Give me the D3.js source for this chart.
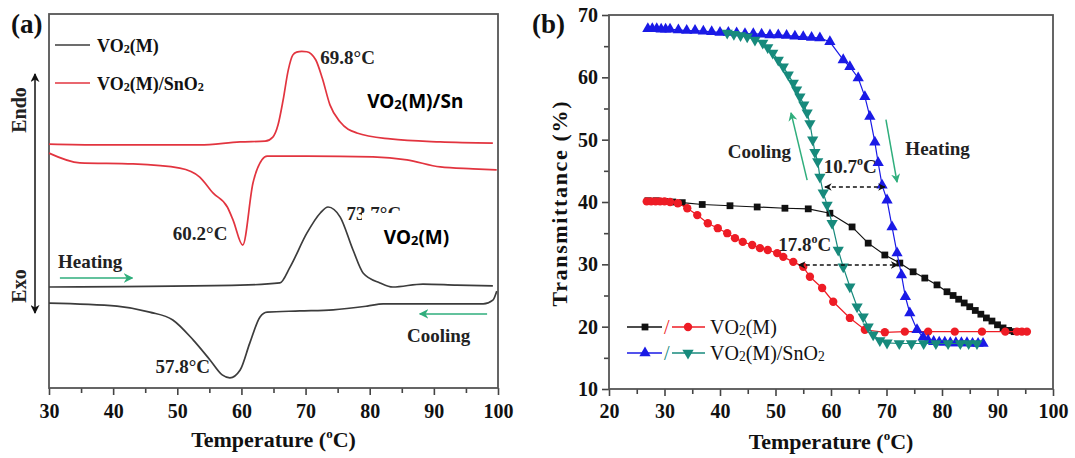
<!DOCTYPE html>
<html>
<head>
<meta charset="utf-8">
<script src="https://cdn.jsdelivr.net/npm/d3@7"></script>
<style>
body{margin:0;background:#fff;}
svg{display:block;}
</style>
</head>
<body>
<svg id="pic" width="1075" height="458"></svg>
<script>
// ---------- panel (a): DSC curves, temperature (°C) vs heat flow (arb. units)
var dscTicks = [30,40,50,60,70,80,90,100];
var dscMinor = [35,45,55,65,75,85,95];

var snHeatT = [30,38,53.5,59.8,63.7,64.9,65.7,66.5,67.3,68.0,68.6,69.4,70.2,70.9,71.6,72.6,73.8,75.4,78.0,83.2,91.0,99.2];
var snHeatV = [65.2,65.0,65.0,65.8,66.0,67.1,70.3,77.0,85.0,89.0,89.8,90.0,89.9,89.3,87.7,82.9,75.7,71.1,68.2,66.6,65.8,65.5];

var snCoolT = [30,34.8,43.1,50.4,53.5,55.6,57.8,58.7,60.2,61.8,63.2,64.0,70.2,80.5,85.8,91.0,96.1,99.8];
var snCoolV = [62.8,60.2,59.9,58.8,56.4,52.1,48.4,44.9,38.2,54.8,61.0,62.0,62.0,61.8,61.0,59.1,58.6,58.3];

var voHeatT = [30,59.8,66.0,67.6,70.2,72.3,73.5,75.4,77.4,79.0,81.6,83.6,88.3,93.6,99.2];
var voHeatV = [27.0,27.5,28.1,32.4,41.4,46.8,48.4,45.7,36.9,30.7,28.1,27.0,27.8,27.5,27.3];

var voCoolT = [30,40.6,45.7,49.3,52.5,55.1,57.0,58.2,59.8,61.3,62.9,64.0,69.1,74.3,79.6,82.1,97.7,99.2,99.8];
var voCoolV = [22.7,21.9,20.3,18.2,12.8,7.5,3.5,2.7,4.8,12.0,19.0,20.3,20.6,20.9,21.9,22.5,22.5,23.5,25.9];

// ---------- panel (b): transmittance (%) vs temperature (°C)
var trXTicks = [20,30,40,50,60,70,80,90,100];
var trXMinor = [25,35,45,55,65,75,85,95];
var trYTicks = [10,20,30,40,50,60,70];
var trYMinor = [15,25,35,45,55,65];

var voHT = [27,28.5,30,31.5,33.2,36.8,41.8,46.7,51.7,55.9,59.8,63.8,66.7,69.7,72.4,74.8,76.9,79.1,80.9,82,83,84,85,86,87,88,89,90,91,92,93,94];
var voHV = [40.2,40.2,40.1,40.0,39.9,39.6,39.4,39.2,39.0,38.9,38.2,36.0,33.4,31.5,30.2,28.8,27.8,26.7,25.6,25.0,24.4,23.8,23.2,22.6,22.0,21.4,20.9,20.3,19.8,19.4,19.2,19.2];

var voCT = [26.8,27.6,28.4,29.2,30,31,32.4,34.1,35.9,37.8,39.6,41.3,42.7,44.1,45.8,47.2,48.6,50.3,51.4,53.2,55.0,56.2,58.4,60.4,63.4,66.1,69.7,73.3,77.5,82.3,87.2,91.4,93.5,94.4,95.3];
var voCV = [40.1,40.1,40.1,40.1,40.1,40.0,39.8,39.0,37.9,36.6,35.8,35.0,34.2,33.6,33.1,32.6,32.3,31.8,31.2,30.4,29.6,28.0,26.2,24.0,21.4,19.5,19.1,19.2,19.2,19.2,19.2,19.2,19.2,19.2,19.2];

var snHT = [27,27.8,28.6,29.4,30.2,31,32.5,34,35.5,37,38.5,40,41.5,43,44.5,46,47.5,49,50.5,52,53.5,55,56.5,58,59.8,62.2,63.4,64.9,66.1,67.0,67.9,68.5,69.2,70.1,71.0,71.9,72.7,73.4,74.2,75.5,76.6,77.5,78.5,79.5,80.5,81.5,82.5,83.5,84.5,85.5,86.5,87.4];
var snHV = [67.8,67.8,67.8,67.7,67.7,67.7,67.6,67.5,67.5,67.4,67.3,67.2,67.2,67.1,67.0,67.0,66.9,66.8,66.8,66.7,66.6,66.5,66.4,66.3,65.7,62.8,61.7,59.9,56.9,53.7,49.6,46.3,42.7,40.3,36.0,31.8,28.3,24.8,22.2,19.5,18.3,17.8,17.6,17.5,17.5,17.4,17.4,17.4,17.4,17.3,17.3,17.3];

var snCT = [41.3,42.5,43.7,44.9,46.3,47.7,48.6,49.5,50.5,51.4,52.3,53.2,53.8,54.4,55.1,55.7,56.2,56.7,57.1,57.6,58.0,58.6,59.3,60.2,61.3,62.2,63.4,64.7,65.8,66.7,67.6,68.8,70.1,72.3,74.5,76.7,78.9,81.1,83.3,84.8,86.3];
var snCV = [67.1,66.9,66.7,66.5,66.0,65.5,64.8,63.9,62.8,61.7,60.4,59.1,58.0,56.9,55.6,54.3,52.6,50.0,48.0,46.5,44.0,41.5,39.5,36.6,32.3,29.6,26.4,23.2,21.6,20.0,18.7,17.8,17.4,17.3,17.3,17.3,17.3,17.3,17.3,17.3,17.3];

var serif = "'Liberation Serif','Times New Roman',serif";
var sans = "'Noto Sans','Open Sans',Arial,sans-serif";
var svg = d3.select("#pic");

function zip(xs, ys){ return xs.map(function(x,i){ return [x, ys[i]]; }); }

// text with chemical subscripts: parts = [[str, kind], ...]
function chemText(g, x, y, parts, size, weight, fam, color){
    var t = g.append("text").attr("x", x).attr("y", y)
        .attr("font-family", fam).attr("font-size", size)
        .attr("font-weight", weight).attr("fill", color || "#111");
    parts.forEach(function(p){
        var s = t.append("tspan").text(p[0]);
        if(p[1] == "sub") s.attr("font-size", size*0.68).attr("dy", 1);
        else if(p[1] == "back") s.attr("dy", -1);
    });
    return t;
}

var defs = svg.append("defs");
function head(id, color, size){
    defs.append("marker").attr("id", id).attr("viewBox", "0 0 10 10")
        .attr("refX", 9).attr("refY", 5).attr("markerWidth", size).attr("markerHeight", size)
        .attr("orient", "auto-start-reverse")
        .append("path").attr("d", "M0,0 L10,5 L0,10 L3,5 z").attr("fill", color);
}
head("ghead", "#2fae7c", 6);
head("khead", "#111", 5);
head("vhead", "#111", 6);

function styleAxis(g, size){
    g.select(".domain").remove();
    g.selectAll(".tick line").attr("stroke", "#444").attr("stroke-width", 1.6);
    g.selectAll(".tick text").attr("font-family", serif).attr("font-size", size)
        .attr("font-weight", "bold").attr("fill", "#111");
}

// ================= panel (a) =================
var xA = d3.scaleLinear().domain([30,100]).range([49,498]);
var yA = d3.scaleLinear().domain([0,100]).range([388,14]);
var gA = svg.append("g");

var axA = gA.append("g").attr("transform", "translate(0,388)")
    .call(d3.axisBottom(xA).tickValues(dscTicks).tickSize(7).tickPadding(4).tickFormat(d3.format("d")));
styleAxis(axA, 20);
axA.selectAll(".tick text").attr("y", 16);
var axAm = gA.append("g").attr("transform", "translate(0,388)")
    .call(d3.axisBottom(xA).tickValues(dscMinor).tickSize(5).tickFormat(""));
styleAxis(axAm, 20);

gA.append("rect").attr("x", xA(30)).attr("y", yA(100))
    .attr("width", xA(100)-xA(30)).attr("height", yA(0)-yA(100))
    .attr("fill", "none").attr("stroke", "#555").attr("stroke-width", 1.8);

var lineA = d3.line().x(function(d){return xA(d[0]);}).y(function(d){return yA(d[1]);})
    .curve(d3.curveMonotoneX);
var redA = "#e2343f", grayA = "#3c3c3c";
[[snHeatT,snHeatV,redA],[snCoolT,snCoolV,redA],[voHeatT,voHeatV,grayA],[voCoolT,voCoolV,grayA]]
  .forEach(function(s){
    gA.append("path").datum(zip(s[0], s[1])).attr("d", lineA)
      .attr("fill", "none").attr("stroke", s[2]).attr("stroke-width", 1.7);
  });

// legend (a)
gA.append("line").attr("x1", 55).attr("x2", 90).attr("y1", 45).attr("y2", 45).attr("stroke", grayA).attr("stroke-width", 1.7);
chemText(gA, 97, 52, [["VO"],["2","sub"],["(M)","back"]], 18, "bold", serif);
gA.append("line").attr("x1", 55).attr("x2", 90).attr("y1", 83).attr("y2", 83).attr("stroke", redA).attr("stroke-width", 1.7);
chemText(gA, 97, 90, [["VO"],["2","sub"],["(M)/SnO","back"],["2","sub"]], 18, "bold", serif);

// annotations (a)
function aText(x, y, str, size){
    return gA.append("text").attr("x", xA(x)).attr("y", yA(y)).text(str)
      .attr("font-family", serif).attr("font-size", size || 19).attr("font-weight", "bold").attr("fill", "#222");
}
aText(72.3, 86.5, "69.8°C");
chemText(gA, xA(79.6), yA(74.9), [["VO"],["2","sub"],["(M)/Sn","back"]], 19, "bold", sans, "#000");
aText(49.3, 39.6, "60.2°C");
aText(76.4, 45.0, "73.7°C");
gA.append("rect").attr("x", xA(78.8)).attr("y", yA(46.8)).attr("width", 95).attr("height", 18).attr("fill", "#fff");
chemText(gA, xA(82.2), yA(38.4), [["VO"],["2","sub"],["(M)","back"]], 19, "bold", sans, "#000");
aText(31.4, 32.1, "Heating");
gA.append("line").attr("x1", xA(31.7)).attr("x2", xA(43.0)).attr("y1", yA(29.4)).attr("y2", yA(29.4))
    .attr("stroke", "#2fae7c").attr("stroke-width", 1.6).attr("marker-end", "url(#ghead)");
aText(85.8, 12.3, "Cooling");
gA.append("line").attr("x1", xA(98.3)).attr("x2", xA(87.8)).attr("y1", yA(19.8)).attr("y2", yA(19.8))
    .attr("stroke", "#2fae7c").attr("stroke-width", 1.6).attr("marker-end", "url(#ghead)");
aText(46.6, 4.0, "57.8°C");

// endo / exo
gA.append("line").attr("x1", 35).attr("x2", 35).attr("y1", 313).attr("y2", 74)
    .attr("stroke", "#111").attr("stroke-width", 1.5)
    .attr("marker-start", "url(#vhead)").attr("marker-end", "url(#vhead)");
gA.append("text").attr("transform", "translate(26,110) rotate(-90)").attr("text-anchor", "middle")
    .text("Endo").attr("font-family", serif).attr("font-size", 20).attr("font-weight", "bold").attr("fill", "#222");
gA.append("text").attr("transform", "translate(26,286) rotate(-90)").attr("text-anchor", "middle")
    .text("Exo").attr("font-family", serif).attr("font-size", 20).attr("font-weight", "bold").attr("fill", "#222");

gA.append("text").attr("x", 11).attr("y", 33).text("(a)")
    .attr("font-family", serif).attr("font-size", 27).attr("font-weight", "bold").attr("fill", "#111");
var tA = gA.append("text").attr("x", (xA(30)+xA(100))/2).attr("y", 447).attr("text-anchor", "middle")
    .attr("font-family", serif).attr("font-size", 22).attr("font-weight", "bold").attr("fill", "#111");
tA.append("tspan").text("Temperature (");
tA.append("tspan").text("o").attr("font-size", 13).attr("dy", -9);
tA.append("tspan").text("C)").attr("dy", 9);

// ================= panel (b) =================
var xB = d3.scaleLinear().domain([20,100]).range([609,1053]);
var yB = d3.scaleLinear().domain([10,70]).range([389,15]);
var gB = svg.append("g");

var axBx = gB.append("g").attr("transform", "translate(0,389)")
    .call(d3.axisBottom(xB).tickValues(trXTicks).tickSize(7).tickFormat(d3.format("d")));
styleAxis(axBx, 20);
axBx.selectAll(".tick text").attr("y", 15);
var axBxm = gB.append("g").attr("transform", "translate(0,389)")
    .call(d3.axisBottom(xB).tickValues(trXMinor).tickSize(5).tickFormat(""));
styleAxis(axBxm, 20);
var axBy = gB.append("g").attr("transform", "translate(609,0)")
    .call(d3.axisLeft(yB).tickValues(trYTicks).tickSize(7).tickPadding(4).tickFormat(d3.format("d")));
styleAxis(axBy, 20);
var axBym = gB.append("g").attr("transform", "translate(609,0)")
    .call(d3.axisLeft(yB).tickValues(trYMinor).tickSize(5).tickFormat(""));
styleAxis(axBym, 20);

gB.append("rect").attr("x", xB(20)).attr("y", yB(70))
    .attr("width", xB(100)-xB(20)).attr("height", yB(10)-yB(70))
    .attr("fill", "none").attr("stroke", "#555").attr("stroke-width", 1.8);

var lineB = d3.line().x(function(d){return xB(d[0]);}).y(function(d){return yB(d[1]);});
var series = [
    {t: voHT, v: voHV, color: "#111111", sym: d3.symbolSquare, size: 46, rot: 0},
    {t: voCT, v: voCV, color: "#ee1c25", sym: d3.symbolCircle, size: 55, rot: 0},
    {t: snHT, v: snHV, color: "#1a1ae6", sym: d3.symbolTriangle, size: 55, rot: 0},
    {t: snCT, v: snCV, color: "#178a7c", sym: d3.symbolTriangle, size: 55, rot: 180}
];
series.forEach(function(s){
    var pts = zip(s.t, s.v);
    gB.append("path").datum(pts).attr("d", lineB)
      .attr("fill", "none").attr("stroke", s.color).attr("stroke-width", 1.2);
    gB.selectAll(null).data(pts).enter().append("path")
      .attr("d", d3.symbol().type(s.sym).size(s.size))
      .attr("transform", function(d){ return "translate(" + xB(d[0]) + "," + yB(d[1]) + ") rotate(" + s.rot + ")"; })
      .attr("fill", s.color);
});

// legend (b)
function legendItem(y, a, b, label){
    [[a, 627, 662, 645], [b, 672, 705, 688]].forEach(function(p){
        gB.append("line").attr("x1", p[1]).attr("x2", p[2]).attr("y1", y).attr("y2", y)
          .attr("stroke", p[0].color).attr("stroke-width", 1.6);
        gB.append("path").attr("d", d3.symbol().type(p[0].sym).size(p[0].size))
          .attr("transform", "translate(" + p[3] + "," + y + ") rotate(" + p[0].rot + ")")
          .attr("fill", p[0].color);
    });
    gB.append("text").attr("x", 664).attr("y", y+7).text("/")
      .attr("font-family", serif).attr("font-size", 20).attr("fill", b.color);
    chemText(gB, 710, y+7, label, 20, "normal", serif, "#111");
}
legendItem(327, series[0], series[1], [["VO"],["2","sub"],["(M)","back"]]);
legendItem(353, series[2], series[3], [["VO"],["2","sub"],["(M)/SnO","back"],["2","sub"]]);

// annotations (b)
function bText(x, y, str){
    return gB.append("text").attr("x", xB(x)).attr("y", yB(y)).text(str)
      .attr("font-family", serif).attr("font-size", 19).attr("font-weight", "bold").attr("fill", "#222");
}
bText(41.4, 47.1, "Cooling");
bText(73.4, 47.6, "Heating");
var t107 = bText(58.7, 44.7, "10.7");
t107.append("tspan").text("o").attr("font-size", 12).attr("dy", -8);
t107.append("tspan").text("C").attr("dy", 8);
var t178 = bText(50.5, 32.1, "17.8");
t178.append("tspan").text("o").attr("font-size", 12).attr("dy", -8);
t178.append("tspan").text("C").attr("dy", 8);

gB.append("line").attr("x1", xB(55.7)).attr("y1", yB(43.5)).attr("x2", xB(52.8)).attr("y2", yB(54.3))
    .attr("stroke", "#2fae7c").attr("stroke-width", 1.5).attr("marker-end", "url(#ghead)");
gB.append("line").attr("x1", xB(69.9)).attr("y1", yB(53.2)).attr("x2", xB(71.9)).attr("y2", yB(43.2))
    .attr("stroke", "#2fae7c").attr("stroke-width", 1.5).attr("marker-end", "url(#ghead)");
gB.append("line").attr("x1", xB(58.9)).attr("y1", yB(42.4)).attr("x2", xB(69.7)).attr("y2", yB(42.4))
    .attr("stroke", "#111").attr("stroke-width", 1.5).attr("stroke-dasharray", "4,3")
    .attr("marker-start", "url(#khead)").attr("marker-end", "url(#khead)");
gB.append("line").attr("x1", xB(54.2)).attr("y1", yB(29.9)).attr("x2", xB(72.0)).attr("y2", yB(29.9))
    .attr("stroke", "#111").attr("stroke-width", 1.5).attr("stroke-dasharray", "4,3")
    .attr("marker-start", "url(#khead)").attr("marker-end", "url(#khead)");

gB.append("text").attr("x", 532).attr("y", 33).text("(b)")
    .attr("font-family", serif).attr("font-size", 27).attr("font-weight", "bold").attr("fill", "#111");
var tB = gB.append("text").attr("x", (xB(20)+xB(100))/2).attr("y", 449).attr("text-anchor", "middle")
    .attr("font-family", serif).attr("font-size", 22).attr("font-weight", "bold").attr("fill", "#111");
tB.append("tspan").text("Temperature (");
tB.append("tspan").text("o").attr("font-size", 13).attr("dy", -9);
tB.append("tspan").text("C)").attr("dy", 9);
gB.append("text").attr("transform", "translate(567,204) rotate(-90)").attr("text-anchor", "middle")
    .attr("textLength", 205).attr("lengthAdjust", "spacing")
    .text("Transmittance (%)").attr("font-family", serif).attr("font-size", 22)
    .attr("font-weight", "bold").attr("fill", "#111");
</script>
</body>
</html>
